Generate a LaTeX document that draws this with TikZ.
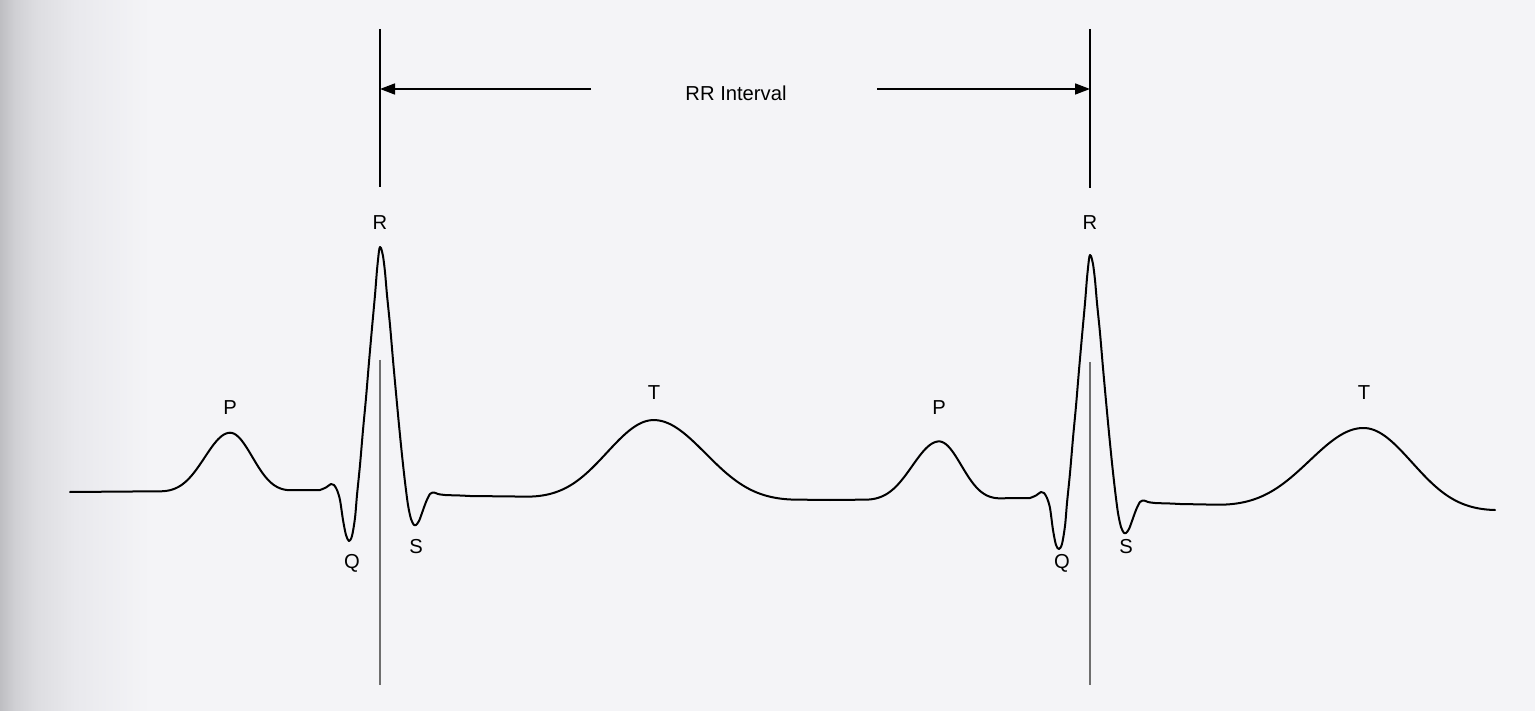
\documentclass[tikz,border=0pt]{standalone}
\usepackage{fontspec}
\setmainfont{Liberation Sans}
\usetikzlibrary{arrows.meta}
\definecolor{bgpaper}{HTML}{F4F4F7}
\definecolor{bgedge}{HTML}{BEBEC2}
\definecolor{bgedgeb}{HTML}{D0D0D4}
\definecolor{bgedgec}{HTML}{DDDDE1}
\definecolor{bgedged}{HTML}{E9E9ED}
\definecolor{guidegray}{HTML}{6E6E6E}
\pgfdeclarehorizontalshading{leftfade}{100bp}{color(0bp)=(bgedge); color(25bp)=(bgedge); color(30bp)=(bgedgeb); color(37bp)=(bgedgec); color(50bp)=(bgedged); color(75bp)=(bgpaper); color(100bp)=(bgpaper)}
\tikzset{
  wavelabel/.style={font=\fontsize{20.2}{24}\selectfont, inner sep=0pt, anchor=center},
  ecgline/.style={line width=2pt, black, line join=round, line cap=round},
  guidetop/.style={line width=1.3pt, black},
  guidebottom/.style={line width=1.3pt, guidegray},
  rrarrow/.style={line width=1.6pt, -{Triangle[length=15pt,width=11pt]}}
}
\begin{document}
\begin{tikzpicture}[x=1pt,y=-1pt,
  declare function={bump(\u)=0.5*(1+cos(180*min(abs(\u),1)));
                    wave(\u)=bump(\u)*(0.4+0.6*bump(\u));}]
\useasboundingbox (0,0) rectangle (1535,711);
\fill[bgpaper] (0,0) rectangle (1535,711);
\shade[shading=leftfade] (0,0) rectangle (150,711);

% guide lines
\coordinate (v1a) at (380,29);
\coordinate (v1b) at (380,187);
\coordinate (v1c) at (380,360);
\coordinate (v1d) at (380,685);
\coordinate (v2a) at (1090,29);
\coordinate (v2b) at (1090,188);
\coordinate (v2c) at (1090,362);
\coordinate (v2d) at (1090,685);
\draw[guidetop] (v1a) -- (v1b);
\draw[guidetop] (v2a) -- (v2b);
\draw[guidebottom] (v1c) -- (v1d);
\draw[guidebottom] (v2c) -- (v2d);

% RR interval
\node[wavelabel] (rr) at (736,93) {RR Interval};
\coordinate (la) at (591,89);
\coordinate (ra) at (877,89);
\draw[rrarrow] (la) -- (la -| v1a);
\draw[rrarrow] (ra) -- (ra -| v2a);

% ECG trace
\draw[ecgline]
 plot[domain=70:320, samples=126, variable=\x]
   (\x, {492 - 2*(\x-70)/250 - 58*wave((\x-230)/ifthenelse(\x<230,69,61))})
 -- plot[smooth, tension=0.5] coordinates {
 (320,490) (326,487.5) (331,484) (334,485) (337,490) (340,500) (343,520) (346,535)
 (349,541) (352,536) (355,518) (357,495) (360,465) (363,430) (366,398) (369,362)
 (372,328) (375,295) (377,270) (379,251) (380,247) (381,248) (383,256) (385,272)
 (387,295) (390,325) (393,360) (396,393) (399,425) (402,455) (405,482) (408,505)
 (411,519) (414,525) (416,525) (419,521) (422,513) (426,502) (430,494) (434,492.5)
 (438,494) (445,495) (460,495.5) (470,496) }
 -- plot[domain=470:830, samples=181, variable=\x]
   (\x, {496 + 4*(\x-470)/360 - 78*wave((\x-654)/ifthenelse(\x<654,128,141))})
 -- plot[domain=830:1030, samples=101, variable=\x]
   (\x, {500 - 2*(\x-830)/200 - 57.5*wave((\x-939)/ifthenelse(\x<939,73,61))})
 -- plot[smooth, tension=0.5] coordinates {
 (1030,498) (1036,495.5) (1041,492) (1044,493) (1047,498) (1050,508) (1053,530) (1056,545)
 (1059,549) (1062,544) (1065,526) (1067,503) (1070,473) (1073,438) (1076,406) (1079,370)
 (1082,336) (1085,303) (1087,278) (1089,259) (1090,255) (1091,256) (1093,264) (1095,280)
 (1097,303) (1100,333) (1103,368) (1106,401) (1109,433) (1112,463) (1115,490) (1118,513)
 (1121,527) (1124,533) (1126,533) (1129,529) (1132,521) (1136,510) (1140,502) (1144,500.5)
 (1148,502) (1155,503) (1170,503.5) (1180,504) }
 -- plot[domain=1180:1495, samples=158, variable=\x]
   (\x, {504 + 6*(\x-1180)/315 - 79.5*wave((\x-1364)/ifthenelse(\x<1364,148,131))});

% wave labels
\node[wavelabel] (p1) at (230,408) {P};
\node[wavelabel] (r1) at (380,223) {R};
\node[wavelabel] (q1) at (352,563) {Q};
\node[wavelabel] (s1) at (416,547) {S};
\node[wavelabel] (t1) at (654,393) {T};
\node[wavelabel] (p2) at (939,408) {P};
\node[wavelabel] (r2) at (1090,223) {R};
\node[wavelabel] (q2) at (1062,563) {Q};
\node[wavelabel] (s2) at (1126,547) {S};
\node[wavelabel] (t2) at (1364,393) {T};
\end{tikzpicture}
\end{document}
